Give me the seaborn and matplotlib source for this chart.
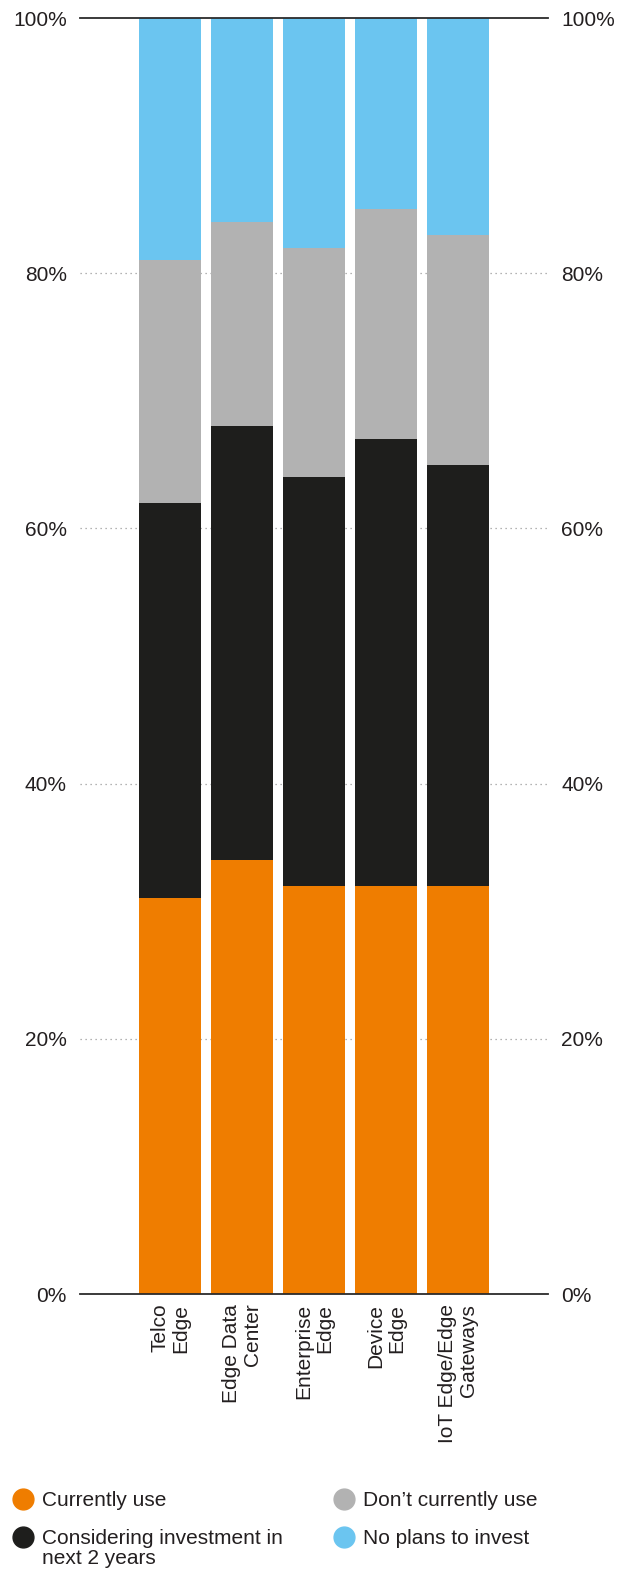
import pandas as pd
import numpy as np
import matplotlib
matplotlib.use('Agg')
import matplotlib.pyplot as plt
from matplotlib.lines import Line2D
import seaborn as sns

# Data (percent of respondents)
categories = ['Telco\nEdge', 'Edge Data\nCenter', 'Enterprise\nEdge', 'Device\nEdge', 'IoT Edge/Edge\nGateways']
currently_use = [31, 34, 32, 32, 32]
considering = [31, 34, 32, 35, 33]
dont_use = [19, 16, 18, 18, 18]
no_plans = [19, 16, 18, 15, 17]

series_names = ['Currently use', 'Considering investment in\nnext 2 years',
                "Don\u2019t currently use", 'No plans to invest']
colors = ['#EF7D00', '#1E1E1C', '#B2B2B2', '#6BC5F0']
yticks = [0, 20, 40, 60, 80, 100]
ytick_labels = ['0%', '20%', '40%', '60%', '80%', '100%']

TEXT = '#231F20'
FS = 15

sns.set_theme(style='white')
plt.rcParams['font.family'] = ['Liberation Sans', 'DejaVu Sans']

df = pd.DataFrame({
    'category': categories,
    'current': currently_use,
    'considering': considering,
    'dont': dont_use,
    'noplans': no_plans,
})
# cumulative tops for stacking
cols = ['current', 'considering', 'dont', 'noplans']
cum = df[cols].cumsum(axis=1)

W, H, DPI = 620, 1569, 100
fig = plt.figure(figsize=(W / DPI, H / DPI), dpi=DPI)
ax = fig.add_axes([80 / W, 275 / H, (548 - 80) / W, (1294 - 18) / H])

# draw from the top of the stack down so each segment shows
for col, color in reversed(list(zip(cols, colors))):
    sns.barplot(x=df['category'], y=cum[col], color=color, width=0.85,
                saturation=1, ax=ax, zorder=2, linewidth=0)

ax.set_xlim(-1.25, 5.25)
ax.set_ylim(0, 100)
ax.set_xlabel('')
ax.set_ylabel('')

# dotted grid at intermediate ticks
for v in yticks[1:-1]:
    ax.axhline(v, color='#9A9A9A', linestyle=(0, (1, 3)), linewidth=0.9, zorder=1)

for side in ['left', 'right']:
    ax.spines[side].set_visible(False)
for side in ['top', 'bottom']:
    ax.spines[side].set_visible(True)
    ax.spines[side].set_color('#2B2B2B')
    ax.spines[side].set_linewidth(1.3)
    ax.spines[side].set_zorder(3)

ax.set_yticks(yticks)
ax.set_yticklabels(ytick_labels)
ax.tick_params(axis='y', length=0, labelsize=FS, labelcolor=TEXT,
               labelleft=True, labelright=True, pad=9.5)

ax.set_xticks(range(len(categories)))
ax.set_xticklabels(categories, rotation=90, ha='center', va='top',
                   multialignment='right', fontsize=FS, color=TEXT,
                   linespacing=1.1)
ax.tick_params(axis='x', length=0, pad=7)

# legend, two columns laid out by hand so the marker sits on the first line
legend_pos = [(23, 344, 1499), (23, 344, 1537)]
entries = [(0, 0), (0, 1), (1, 0), (1, 1)]
for (colidx, row), name, color in zip(entries, series_names, colors):
    cx = legend_pos[row][colidx]
    cy = legend_pos[row][2]
    fig.add_artist(Line2D([cx / W], [1 - cy / H], marker='o', markersize=15,
                          color=color, linestyle='none',
                          transform=fig.transFigure))
    fig.text((cx + 19) / W, 1 - (cy - 8) / H, name, ha='left', va='top',
             fontsize=FS, color=TEXT, linespacing=1.1)

fig.savefig('out.png', dpi=DPI)
